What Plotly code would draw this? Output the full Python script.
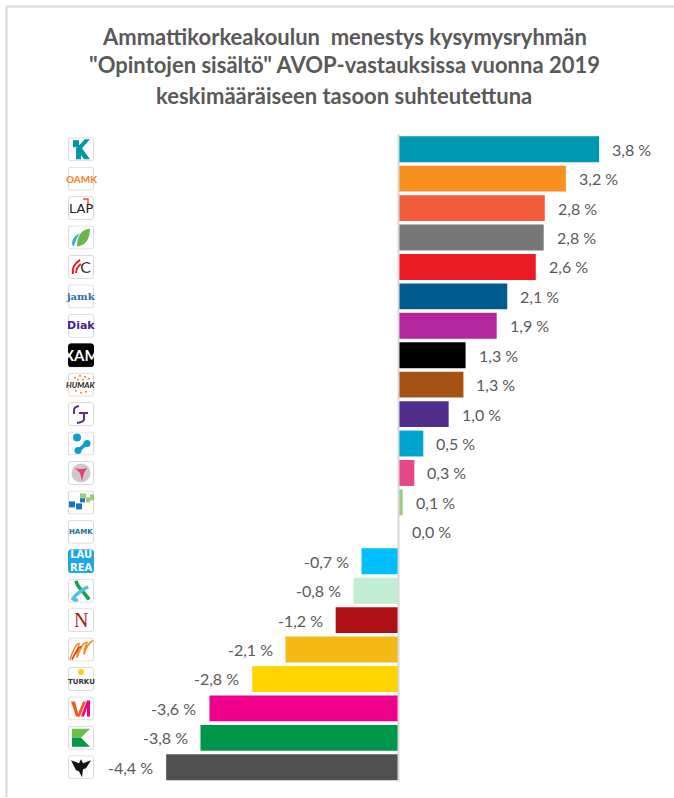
import base64
import plotly.graph_objects as go

W, H = 674, 798

schools = ["K-teal", "OAMK", "LAP", "Leaf", "C", "JAMK", "Diak", "XAMK", "Humak", "TJ", "Molecule",
           "Pink", "HM", "HAMK", "Laurea", "X", "N", "M", "Turku", "VA", "K-green", "Wings"]
values = [3.80, 3.17, 2.77, 2.75, 2.60, 2.06, 1.86, 1.27, 1.23, 0.95, 0.47,
          0.30, 0.08, 0.00, -0.70, -0.85, -1.19, -2.14, -2.77, -3.58, -3.75, -4.40]
labels = ["3,8 %", "3,2 %", "2,8 %", "2,8 %", "2,6 %", "2,1 %", "1,9 %", "1,3 %", "1,3 %", "1,0 %", "0,5 %",
          "0,3 %", "0,1 %", "0,0 %", "-0,7 %", "-0,8 %", "-1,2 %", "-2,1 %", "-2,8 %", "-3,6 %", "-3,8 %", "-4,4 %"]
colors = ["#0097B2", "#F7901E", "#F25C3B", "#787878", "#ED1C24", "#005B8F", "#B3279D", "#000000", "#A65214",
          "#532D8C", "#00A5CF", "#E5478A", "#9CCB7E", "#FFFFFF", "#00BFFF", "#C1EED3", "#B01116", "#F4B914",
          "#FFD500", "#EF008C", "#009649", "#505050"]
title_lines = ["Ammattikorkeakoulun  menestys kysymysryhmän",
               "\"Opintojen sisältö\" AVOP-vastauksissa vuonna 2019",
               "keskimääräiseen tasoon suhteutettuna"]

FONT = "Lato, Carlito, Calibri, sans-serif"
GREY = "#595959"

# Logo artwork on a 26x24 tile
logo_art = {
    "K-teal": '<path d="M5 3h6v7h-6z" fill="#0097A7"/><path d="M8 11l9-9h5l-8 9 8 11h-6z M8 11h5v11h-5z" fill="#0097A7"/>',
    "OAMK": '',
    "LAP": '<path d="M15 3h5v5" fill="none" stroke="#e8503a" stroke-width="1.5"/>',
    "Leaf": '<path d="M22 3C13 4 9 11 9 21 18 20 22 13 22 3z" fill="#6ab64a"/><path d="M4 19C4 13 7 10 12 8 9 12 7 16 6 21z" fill="#35b4c8"/>',
    "C": '<path d="M12 5C6 9 4 14 5 19M13 9C9 12 8 15 8 18" fill="none" stroke="#ed1c24" stroke-width="2"/>',
    "JAMK": '',
    "Diak": '',
    "XAMK": '',
    "Humak": '<g fill="#f0822a"><circle cx="7" cy="5" r="1"/><circle cx="12" cy="3" r="1"/><circle cx="17" cy="4" r="1"/><circle cx="21" cy="6" r="1"/><circle cx="10" cy="7" r="1"/><circle cx="15" cy="7" r="1"/><circle cx="8" cy="18" r="1"/><circle cx="13" cy="20" r="1"/><circle cx="18" cy="19" r="1"/></g>',
    "TJ": '<path d="M6 12V8Q6 5 11 4M11 11h9M16 11v6Q16 20 9 21" fill="none" stroke="#5b2d91" stroke-width="2"/>',
    "Molecule": '<g fill="#0f9fc4"><circle cx="9" cy="6" r="4"/><circle cx="19" cy="12" r="3.5"/><circle cx="10" cy="19" r="3.5"/><path d="M10 17L18 10l2 3-8 7z"/></g>',
    "Pink": '<circle cx="13" cy="12" r="9.5" fill="#cfc9cb"/><path d="M7 7q6 2 12 0l-3 5-2 8-2-8z" fill="#e5426f"/>',
    "HM": '<g fill="#1b75bc"><rect x="1" y="11" width="6" height="6"/><rect x="8" y="13" width="6" height="6"/><rect x="12" y="7" width="5" height="5"/></g><g fill="#9ccb7e"><rect x="12" y="3" width="6" height="5"/><rect x="18" y="7" width="4" height="5"/><rect x="22" y="4" width="4" height="6"/></g>',
    "HAMK": '',
    "Laurea": '',
    "X": '<path d="M8 2C9 9 17 14 21 21" fill="none" stroke="#1f9e4b" stroke-width="3.5"/><path d="M20 8C15 11 9 14 5 20q2 2 5 1" fill="none" stroke="#4dc3dc" stroke-width="3.5"/>',
    "N": '',
    "M": '<path d="M2 22C6 10 9 6 11 6 10 11 9 15 9 20 12 10 16 4 19 5 17 10 16 13 16 17 18 10 21 5 25 3" fill="none" stroke="#f28a1e" stroke-width="1.6"/><path d="M4 22C8 14 10 10 13 9" fill="none" stroke="#e8331c" stroke-width="1.6"/>',
    "Turku": '<circle cx="13" cy="5" r="3" fill="#f7ce1a"/>',
    "VA": '<path d="M3 5L8 20h3L7 5z" fill="#f15a22"/><path d="M9 20L15 5h3l-6 15z" fill="#f15a22"/><path d="M13 20L19 4h3v16h-3v-9l-3 9z" fill="#ec008c"/>',
    "K-green": '<path d="M4 3h9v9h-9z" fill="#6cc04a"/><path d="M13 3h9l-9 9z" fill="#6cc04a"/><path d="M4 12h9l9 9H4z" fill="#00984a"/>',
    "Wings": '<path d="M3 5l8 3 2-4 2 4 8-3-5 8-3 1-1 8-3-6-3-1z" fill="#111"/>',
}
# Text portions of the logos: text, colour, size, bold, italic, family
logo_text = {
    "OAMK": ("OAMK", "#F58220", 10, True, False, FONT),
    "LAP": ("LAP", "#222222", 13, False, False, "DejaVu Sans"),
    "C": ("<span style='font-size:16px'>&nbsp;&nbsp;C</span>", "#333333", 16, False, False, FONT),
    "JAMK": ("jamk", "#2F6CA3", 10, True, False, "DejaVu Serif"),
    "Diak": ("Diak", "#4B1E8F", 11, True, False, "DejaVu Sans"),
    "XAMK": ("XAM", "#FFFFFF", 15, True, False, FONT),
    "Humak": ("HUMAK", "#222222", 8, True, True, FONT),
    "HAMK": ("HAMK", "#1B6F8C", 7, True, False, "DejaVu Sans"),
    "Laurea": ("LAU<br>REA", "#FFFFFF", 10, True, False, "DejaVu Sans"),
    "N": ("N", "#A61C2A", 20, False, False, "Liberation Serif"),
    "Turku": ("TURKU", "#333333", 7, True, False, "DejaVu Sans"),
}
tile_fill = {"XAMK": "#000000", "Laurea": "#1AA6E8"}


def tile(name):
    fill = tile_fill.get(name, "#FFFFFF")
    stroke = "#DADADA" if name not in tile_fill else fill
    svg = (f'<svg xmlns="http://www.w3.org/2000/svg" width="26" height="24" viewBox="0 0 26 24">'
           f'<rect x="0.5" y="0.5" width="25" height="23" rx="2.5" fill="{fill}" stroke="{stroke}"/>'
           f'{logo_art.get(name, "")}</svg>')
    return "data:image/svg+xml;base64," + base64.b64encode(svg.encode()).decode()


PX_PER_UNIT = 52.8
ZERO_PX = 398.5
PLOT_L, PLOT_R = 100, 660
PLOT_T, PLOT_B = 134.5, 782

fig = go.Figure(go.Bar(
    x=values, y=schools, orientation="h", width=0.88,
    marker=dict(color=colors, line=dict(width=0)),
    hoverinfo="skip", showlegend=False,
))

annotations = []
for name, v, lab in zip(schools, values, labels):
    annotations.append(dict(
        x=v, y=name, xref="x", yref="y", text=lab, showarrow=False,
        xanchor="left" if v >= 0 else "right", xshift=11 if v >= 0 else -11,
        font=dict(family=FONT, size=16, color=GREY),
    ))
    if name in logo_text:
        t, c, s, b, i, fam = logo_text[name]
        if b:
            t = f"<b>{t}</b>"
        if i:
            t = f"<i>{t}</i>"
        annotations.append(dict(
            x=81 / W, y=name, xref="paper", yref="y", text=t, showarrow=False,
            xanchor="center", yanchor="middle", yshift=-3 if name == "Turku" else 0,
            font=dict(family=fam, size=s, color=c), align="center",
        ))

for line, py in zip(title_lines, [37, 65, 95]):
    annotations.append(dict(
        x=344 / W, y=1 - py / H, xref="paper", yref="paper", text=f"<b>{line}</b>", showarrow=False,
        xanchor="center", yanchor="middle", font=dict(family=FONT, size=22, color=GREY),
    ))

images = [dict(source=tile(n), xref="paper", yref="y", x=81 / W, y=n, sizex=26 / W, sizey=24 / 29.43,
               xanchor="center", yanchor="middle", sizing="stretch", layer="above") for n in schools]

shapes = [
    dict(type="line", xref="paper", yref="paper", x0=6 / W, x1=1, y0=1 - 6.5 / H, y1=1 - 6.5 / H,
         line=dict(color="#D9D9D9", width=2)),
    dict(type="line", xref="paper", yref="paper", x0=6.5 / W, x1=6.5 / W, y0=1 - 6 / H, y1=1 - 797 / H,
         line=dict(color="#D9D9D9", width=2)),
    dict(type="line", xref="x", yref="paper", x0=0, x1=0, y0=1 - 134 / H, y1=1 - 782 / H,
         line=dict(color="#D9D9D9", width=2)),
]

fig.update_layout(
    width=W, height=H, margin=dict(l=0, r=0, t=0, b=0),
    paper_bgcolor="white", plot_bgcolor="white",
    xaxis=dict(domain=[PLOT_L / W, PLOT_R / W],
               range=[(PLOT_L - ZERO_PX) / PX_PER_UNIT, (PLOT_R - ZERO_PX) / PX_PER_UNIT],
               visible=False),
    yaxis=dict(domain=[1 - PLOT_B / H, 1 - PLOT_T / H], autorange=False, range=[21.5, -0.5],
               type="category", categoryorder="array", categoryarray=schools, visible=False),
    annotations=annotations, images=images, shapes=shapes,
)

fig.write_html("out.html", post_script="document.body.style.margin='0';",
               config={"displayModeBar": False})
